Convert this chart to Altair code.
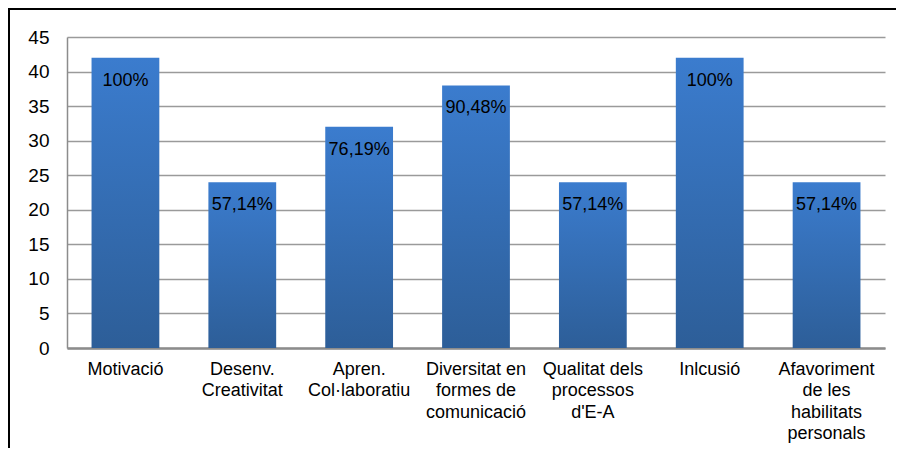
import altair as alt
import pandas as pd

categories = [
    "Motivació",
    "Desenv.|Creativitat",
    "Apren.|Col·laboratiu",
    "Diversitat en|formes de|comunicació",
    "Qualitat dels|processos|d'E-A",
    "Inlcusió",
    "Afavoriment|de les|habilitats|personals",
]
values = [42, 24, 32, 38, 24, 42, 24]
pct_labels = ["100%", "57,14%", "76,19%", "90,48%", "57,14%", "100%", "57,14%"]
y_ticks = [0, 5, 10, 15, 20, 25, 30, 35, 40, 45]

df = pd.DataFrame({"cat": categories, "val": values, "pct": pct_labels})

FONT = "Liberation Sans"
W, H = 818, 311
PAD_L, PAD_T = 59, 29

x = alt.X(
    "cat:N",
    sort=categories,
    scale=alt.Scale(paddingInner=0.42, paddingOuter=0.21),
    axis=alt.Axis(
        title=None,
        labelAngle=0,
        labelExpr="split(datum.label, '|')",
        labelFont=FONT,
        labelFontSize=18,
        labelLineHeight=21.5,
        labelColor="#000000",
        labelPadding=12,
        labelBaseline="top",
        ticks=False,
        domainColor="#8c8c8c",
        domainWidth=2.5,
        labelLimit=200,
        labelOverlap=False,
    ),
)
y = alt.Y(
    "val:Q",
    scale=alt.Scale(domain=[0, 45], nice=False),
    axis=alt.Axis(
        title=None,
        values=y_ticks,
        labelFont=FONT,
        labelFontSize=19,
        labelColor="#000000",
        labelPadding=18,
        ticks=False,
        domainColor="#8c8c8c",
        domainWidth=1.5,
        gridColor="#9a9a9a",
        gridWidth=1.6,
        labelOverlap=False,
    ),
)

base = alt.Chart(df).encode(x=x, y=y)

bars = base.mark_bar(
    color=alt.Gradient(
        gradient="linear",
        stops=[
            alt.GradientStop(color="#3b7cce", offset=0),
            alt.GradientStop(color="#2d5e98", offset=1),
        ],
        x1=0, x2=0, y1=0, y2=1,
    )
)

labels = base.mark_text(
    font=FONT, fontSize=18, color="#000000", baseline="middle", dy=23
).encode(text="pct:N")

frame_top = alt.Chart(df).mark_rule(color="#000000", strokeWidth=2).encode(
    x=alt.value(-PAD_L), x2=alt.value(W + 200), y=alt.value(-PAD_T + 1)
)
frame_left = alt.Chart(df).mark_rule(color="#000000", strokeWidth=2).encode(
    x=alt.value(-PAD_L + 1), y=alt.value(-PAD_T), y2=alt.value(H + 200)
)

chart = (
    alt.layer(bars, labels, frame_top, frame_left)
    .properties(
        width=W,
        height=H,
        padding={"left": PAD_L, "top": PAD_T, "right": 11, "bottom": 100},
        autosize=alt.AutoSizeParams(type="none"),
    )
    .configure(background="#ffffff", view=alt.ViewConfig(stroke=None))
)

chart.save("out.html", embed_options={"renderer": "svg", "actions": False})
